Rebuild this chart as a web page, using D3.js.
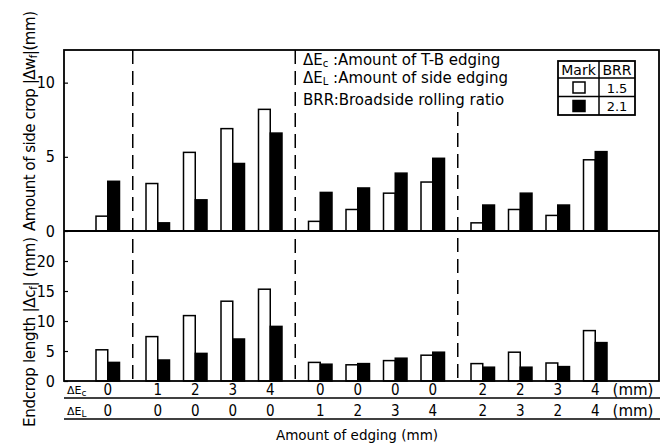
<!DOCTYPE html>
<html>
<head>
<meta charset="utf-8">
<script src="https://cdn.jsdelivr.net/npm/d3@7"></script>
<style>
  body { margin: 0; background: #fff; }
  text { font-family: "DejaVu Sans", sans-serif; fill: #000; }
  .narrow { font-family: "DejaVu Sans Condensed", "DejaVu Sans", sans-serif; font-stretch: condensed; }
</style>
</head>
<body>
<div id="chart"></div>
<script>
// data
var ecLabels = ["0", "1", "2", "3", "4", "0", "0", "0", "0", "2", "2", "3", "4"];
var elLabels = ["0", "0", "0", "0", "0", "1", "2", "3", "4", "2", "3", "2", "4"];
var groupSizes = [1, 4, 4, 4];
var sideCrop15 = [1.0, 3.2, 5.3, 6.9, 8.2, 0.65, 1.45, 2.55, 3.3, 0.55, 1.45, 1.05, 4.8];
var sideCrop21 = [3.35, 0.55, 2.1, 4.55, 6.6, 2.6, 2.9, 3.9, 4.9, 1.75, 2.55, 1.75, 5.35];
var endcrop15 = [5.2, 7.4, 10.9, 13.3, 15.3, 3.1, 2.7, 3.4, 4.3, 2.9, 4.8, 3.0, 8.4];
var endcrop21 = [3.1, 3.5, 4.6, 7.0, 9.1, 2.8, 2.9, 3.8, 4.8, 2.3, 2.3, 2.4, 6.4];
var sideTicks = [0, 5, 10];
var endTicks = [0, 5, 10, 15, 20];
var brrLabels = ["1.5", "2.1"];

var svgWidth = 671, svgHeight = 443;
var plotL = 64, plotR = 659, plotT = 50, plotM = 231, plotB = 381;

var svg = d3.select("#chart").append("svg")
  .attr("width", svgWidth)
  .attr("height", svgHeight);

// slot positions: 3 units between pairs, 4 units between groups
var centers = [], bounds = [];
var pos = 3.5;
groupSizes.forEach(function(n, g) {
  for (var i = 0; i < n; i++) {
    centers.push(pos);
    pos += (i === n - 1) ? 4 : 3;
  }
  if (g < groupSizes.length - 1) bounds.push(pos - 2);
});

var x = d3.scaleLinear().domain([0, 47.6]).range([plotL, plotR]);
var ySide = d3.scaleLinear().domain([0, 12.2]).range([plotM, plotT]);
var yEnd = d3.scaleLinear().domain([0, 25]).range([plotB, plotM]);
var unit = x(1) - x(0);

// bars
function drawBars(vals, yScale, side, fill) {
  svg.append("g").selectAll("rect")
    .data(vals)
    .enter().append("rect")
    .attr("x", function(d, i) { return side < 0 ? x(centers[i]) - unit + 0.75 : x(centers[i]); })
    .attr("y", function(d) { return yScale(d); })
    .attr("width", unit - 0.75)
    .attr("height", function(d) { return yScale(0) - yScale(d); })
    .attr("fill", fill)
    .attr("stroke", "#000")
    .attr("stroke-width", 1.5);
}
drawBars(sideCrop15, ySide, -1, "#fff");
drawBars(sideCrop21, ySide, 1, "#000");
drawBars(endcrop15, yEnd, -1, "#fff");
drawBars(endcrop21, yEnd, 1, "#000");

// dashed group separators
svg.append("g").selectAll("line")
  .data(bounds)
  .enter().append("line")
  .attr("x1", function(d) { return x(d); })
  .attr("x2", function(d) { return x(d); })
  .attr("y1", function(d, i) { return i === 2 ? 112 : plotT; })
  .attr("y2", plotB)
  .attr("stroke", "#000")
  .attr("stroke-width", 1.5)
  .attr("stroke-dasharray", "14,7");

// frame
svg.append("rect")
  .attr("x", plotL).attr("y", plotT)
  .attr("width", plotR - plotL).attr("height", plotB - plotT)
  .attr("fill", "none").attr("stroke", "#000").attr("stroke-width", 1.8);
svg.append("line")
  .attr("x1", plotL).attr("x2", plotR)
  .attr("y1", plotM).attr("y2", plotM)
  .attr("stroke", "#000").attr("stroke-width", 1.8);

// y axes
function styleAxis(g) {
  g.select(".domain").remove();
  g.selectAll(".tick line").attr("stroke-width", 1.2);
  g.selectAll(".tick text").attr("class", "narrow").style("font-size", "16px");
}
svg.append("g")
  .attr("transform", "translate(" + plotL + ",0)")
  .call(d3.axisLeft(ySide).tickValues(sideTicks).tickFormat(d3.format("d"))
    .tickSizeInner(-4).tickSizeOuter(0).tickPadding(9))
  .call(styleAxis);
svg.append("g")
  .attr("transform", "translate(" + plotL + ",0)")
  .call(d3.axisLeft(yEnd).tickValues(endTicks).tickFormat(d3.format("d"))
    .tickSizeInner(-4).tickSizeOuter(0).tickPadding(9))
  .call(styleAxis);

// text with subscripts
function subLabel(g, parts, subSize) {
  parts.forEach(function(p) {
    var t = g.append("tspan").text(p[0]);
    if (p[1]) t.attr("baseline-shift", "-20%").style("font-size", subSize || "10px");
  });
}
var yl1 = svg.append("text")
  .attr("transform", "translate(35,121) rotate(-90)")
  .attr("text-anchor", "middle").style("font-size", "15px")
  .attr("textLength", 220).attr("lengthAdjust", "spacing");
subLabel(yl1, [["Amount of side crop |Δw"], ["f", true], ["|(mm)"]]);
var yl2 = svg.append("text")
  .attr("transform", "translate(35,332) rotate(-90)")
  .attr("text-anchor", "middle").style("font-size", "15px")
  .attr("textLength", 190).attr("lengthAdjust", "spacing");
subLabel(yl2, [["Endcrop length |Δc"], ["f", true], ["| (mm)"]]);

// table of edging amounts under the plot
var row1 = 397, row2 = 418;
svg.append("line").attr("x1", plotL).attr("x2", plotR + 1)
  .attr("y1", row1 + 1).attr("y2", row1 + 1).attr("stroke", "#000").attr("stroke-width", 1.5);
svg.append("line").attr("x1", plotL).attr("x2", plotR + 1)
  .attr("y1", row2 + 1).attr("y2", row2 + 1).attr("stroke", "#000").attr("stroke-width", 1.5);

function rowNumbers(labels, yy) {
  svg.append("g").selectAll("text")
    .data(labels)
    .enter().append("text")
    .attr("class", "narrow")
    .attr("x", function(d, i) { return x(centers[i]); })
    .attr("y", yy)
    .attr("text-anchor", "middle")
    .style("font-size", "15px")
    .text(function(d) { return d; });
  svg.append("text").attr("x", 633).attr("y", yy)
    .attr("text-anchor", "middle").style("font-size", "15px").text("(mm)");
}
rowNumbers(ecLabels, row1 - 2);
rowNumbers(elLabels, row2 - 2);

var r1 = svg.append("text").attr("x", 67).attr("y", row1 - 3).style("font-size", "11px");
subLabel(r1, [["ΔE"], ["c", true]], "9px");
var r2 = svg.append("text").attr("x", 67).attr("y", row2 - 3).style("font-size", "11px");
subLabel(r2, [["ΔE"], ["L", true]], "9px");

svg.append("text")
  .attr("x", 357).attr("y", 440)
  .attr("text-anchor", "middle")
  .style("font-size", "13.5px")
  .text("Amount of edging (mm)");

// key texts
var keys = [
  [["ΔE"], ["c", true], [" :Amount of T-B edging"]],
  [["ΔE"], ["L", true], [" :Amount of side edging"]],
  [["BRR:Broadside rolling ratio"]]
];
var keyY = [65, 83, 105];
keys.forEach(function(k, i) {
  var t = svg.append("text").attr("x", 303).attr("y", keyY[i]).style("font-size", "15px");
  subLabel(t, k);
});

// mark / BRR legend box
var lx = 558, lmid = 599, lr = 635;
var ly = [61, 78, 96.5, 115];
var lg = svg.append("g");
lg.append("rect").attr("x", lx).attr("y", ly[0]).attr("width", lr - lx).attr("height", ly[3] - ly[0])
  .attr("fill", "#fff").attr("stroke", "#000").attr("stroke-width", 1.8);
lg.append("line").attr("x1", lmid).attr("x2", lmid).attr("y1", ly[0]).attr("y2", ly[3])
  .attr("stroke", "#000").attr("stroke-width", 1.5);
[ly[1], ly[2]].forEach(function(yy) {
  lg.append("line").attr("x1", lx).attr("x2", lr).attr("y1", yy).attr("y2", yy)
    .attr("stroke", "#000").attr("stroke-width", 1.5);
});
lg.append("text").attr("x", (lx + lmid) / 2).attr("y", ly[1] - 3).attr("text-anchor", "middle")
  .style("font-size", "14px").text("Mark");
lg.append("text").attr("x", (lmid + lr) / 2).attr("y", ly[1] - 3).attr("text-anchor", "middle")
  .style("font-size", "14px").text("BRR");
brrLabels.forEach(function(b, i) {
  lg.append("rect").attr("x", 573).attr("y", ly[i + 1] + 4).attr("width", 12).attr("height", 11)
    .attr("fill", i === 0 ? "#fff" : "#000").attr("stroke", "#000").attr("stroke-width", 1.5);
  lg.append("text").attr("x", (lmid + lr) / 2).attr("y", ly[i + 2] - 4).attr("text-anchor", "middle")
    .style("font-size", "13px").text(b);
});
</script>
</body>
</html>
